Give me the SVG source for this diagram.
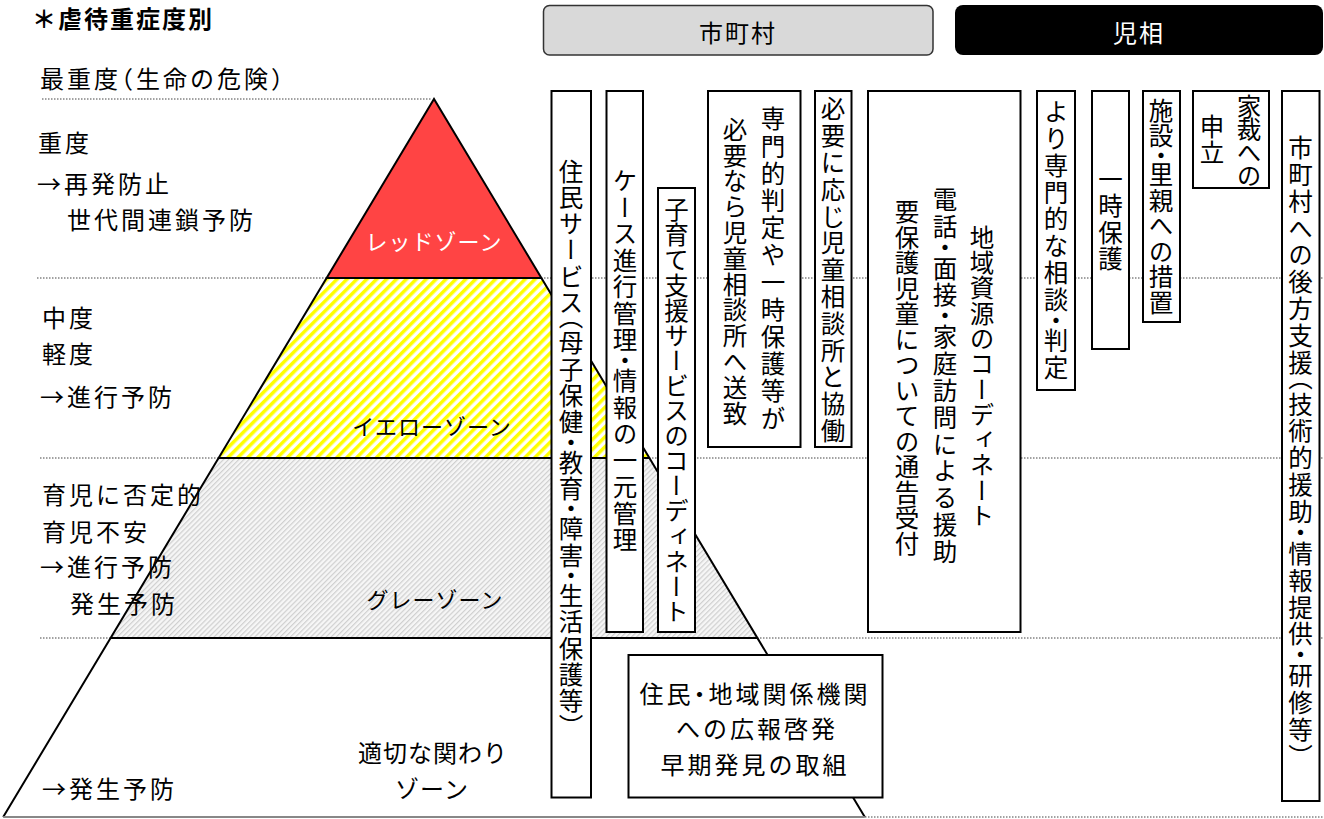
<svg xmlns="http://www.w3.org/2000/svg" width="1324" height="819" viewBox="0 0 1324 819">
<style>
text{font-family:"Noto Sans CJK JP","Noto Sans CJK SC",sans-serif;fill:#000}
.h{font-size:24px;letter-spacing:3px;dominant-baseline:central;font-feature-settings:"halt"}
.z{font-size:22px;letter-spacing:1px;dominant-baseline:central;text-anchor:middle}
.c{text-anchor:middle}
.v{font-size:24.5px;writing-mode:vertical-rl;text-anchor:middle;font-feature-settings:"vhal"}
.box{fill:#fff;stroke:#000;stroke-width:2}
.dot{stroke:#444;stroke-width:1;stroke-dasharray:1.5 1.5;fill:none}
.edge{stroke:#000;stroke-width:2;fill:none}
</style>
<defs>
<pattern id="yel" width="7" height="7" patternUnits="userSpaceOnUse" patternTransform="rotate(45)">
<rect width="7" height="7" fill="#fff"/><rect width="3.5" height="7" fill="#ffff00"/>
</pattern>
<pattern id="gry" width="3.6" height="3.6" patternUnits="userSpaceOnUse" patternTransform="rotate(45)">
<rect width="3.6" height="3.6" fill="#f6f6f6"/><rect width="1.2" height="3.6" fill="#cfcfcf"/>
</pattern>
</defs>

<text x="32" y="28" style="font-size:24px;font-weight:700;letter-spacing:2px">＊虐待重症度別</text>

<g id="guides">
<line class="dot" x1="42" y1="99" x2="432" y2="99"/>
<line class="dot" x1="37" y1="278" x2="1324" y2="278"/>
<line class="dot" x1="40" y1="458" x2="1324" y2="458"/>
<line class="dot" x1="40" y1="638" x2="1324" y2="638"/>
<line class="dot" x1="865" y1="817" x2="1324" y2="817"/>
</g>

<g id="pyramid">
<polygon points="110.6,638 757.4,638 864.8,817 3.2,817" fill="#fff"/>
<polygon points="218.6,458 649.4,458 757.4,638 110.6,638" fill="url(#gry)"/>
<polygon points="326.6,278 541.4,278 649.4,458 218.6,458" fill="url(#yel)"/>
<polygon points="434,99 541.4,278 326.6,278" fill="#ff4444"/>
<polyline class="edge" points="3.2,817 434,99 864.8,817"/>
<line class="edge" x1="326.6" y1="278" x2="541.4" y2="278"/>
<line class="edge" x1="218.6" y1="458" x2="649.4" y2="458"/>
<line class="edge" x1="110.6" y1="638" x2="757.4" y2="638"/>
<line x1="3.2" y1="817" x2="864.8" y2="817" stroke="#888" stroke-width="2"/>
<text class="z" x="434" y="240" style="fill:#fff">レッドゾーン</text>
<text class="z" x="432" y="425">イエローゾーン</text>
<text class="z" x="435" y="598">グレーゾーン</text>
<text class="z" x="433" y="751" style="font-size:24px">適切な関わり</text>
<text class="z" x="432" y="787" style="font-size:24px">ゾーン</text>
</g>

<g id="levels">
<text class="h" x="40" y="77.5">最重度（生命の危険）</text>
<text class="h" x="38" y="141">重度</text>
<text class="h" x="37" y="182">→再発防止</text>
<text class="h" x="67" y="218">世代間連鎖予防</text>
<text class="h" x="42" y="316">中度</text>
<text class="h" x="42" y="352">軽度</text>
<text class="h" x="40" y="395">→進行予防</text>
<text class="h" x="42" y="493">育児に否定的</text>
<text class="h" x="42" y="530">育児不安</text>
<text class="h" x="40" y="565">→進行予防</text>
<text class="h" x="70" y="602">発生予防</text>
<text class="h" x="42" y="787">→発生予防</text>
</g>

<g id="hdr-city">
<rect x="543.5" y="5.5" width="389.5" height="49.5" rx="6" fill="#d9d9d9" stroke="#333" stroke-width="1.5"/>
<text class="h c" x="738" y="31" style="letter-spacing:2px">市町村</text>
</g>
<g id="hdr-jiso">
<rect x="955" y="5" width="368" height="50" rx="8" fill="#000"/>
<text class="h c" x="1139" y="31" style="fill:#fff;letter-spacing:2px">児相</text>
</g>

<g id="n-jumin">
<rect class="box" x="551.5" y="91" width="39.5" height="706.5"/>
<text class="v" x="571" y="444" style="letter-spacing:1.8px">住民サービス（母子保健・教育・障害・生活保護等）</text>
</g>
<g id="n-case">
<rect class="box" x="606.5" y="91" width="36.5" height="541"/>
<text class="v" x="625" y="361.5" style="letter-spacing:2px">ケース進行管理・情報の一元管理</text>
</g>
<g id="n-kosodate">
<rect class="box" x="658" y="188" width="37" height="444"/>
<text class="v" x="676.5" y="411" style="letter-spacing:0.6px">子育て支援サービスのコーディネート</text>
</g>
<g id="n-senmon">
<rect class="box" x="708" y="91" width="92.5" height="356"/>
<text class="v" x="773" y="270" style="letter-spacing:2.7px">専門的判定や一時保護等が</text>
<text class="v" x="735" y="272" style="letter-spacing:1.3px">必要なら児童相談所へ送致</text>
</g>
<g id="n-kyodo">
<rect class="box" x="815" y="91" width="36.5" height="356"/>
<text class="v" x="833" y="271" style="letter-spacing:2.3px">必要に応じ児童相談所と協働</text>
</g>
<g id="n-big">
<rect class="box" x="868" y="91" width="152.5" height="541"/>
<text class="v" x="982" y="377" style="letter-spacing:0.8px">地域資源のコーディネート</text>
<text class="v" x="945" y="377" style="letter-spacing:2.4px">電話・面接・家庭訪問による援助</text>
<text class="v" x="907" y="378" style="letter-spacing:1px">要保護児童についての通告受付</text>
</g>
<g id="n-yori">
<rect class="box" x="1037" y="91" width="38" height="299"/>
<text class="v" x="1056" y="241" style="letter-spacing:2.3px">より専門的な相談・判定</text>
</g>
<g id="n-ichiji">
<rect class="box" x="1092" y="91" width="37" height="258"/>
<text class="v" x="1110.5" y="220" style="letter-spacing:2px">一時保護</text>
</g>
<g id="n-shisetsu">
<rect class="box" x="1143" y="91" width="37" height="231"/>
<text class="v" x="1161" y="207" style="letter-spacing:1px">施設・里親への措置</text>
</g>
<g id="n-kasai">
<rect class="box" x="1193" y="91" width="76" height="97"/>
<text class="v" x="1249" y="140" style="letter-spacing:-1.5px">家裁への</text>
<text class="v" x="1212" y="140" style="letter-spacing:1px">申立</text>
</g>
<g id="n-koho">
<rect class="box" x="1282" y="91" width="37.5" height="710"/>
<text class="v" x="1300.5" y="447" style="letter-spacing:2.4px">市町村への後方支援（技術的援助・情報提供・研修等）</text>
</g>
<g id="n-kouhou">
<rect class="box" x="628.5" y="655" width="254" height="142.5"/>
<text class="h c" x="755" y="692">住民・地域関係機関</text>
<text class="h c" x="757" y="727">への広報啓発</text>
<text class="h c" x="755" y="763">早期発見の取組</text>
</g>
<g id="connectors"></g>
</svg>
